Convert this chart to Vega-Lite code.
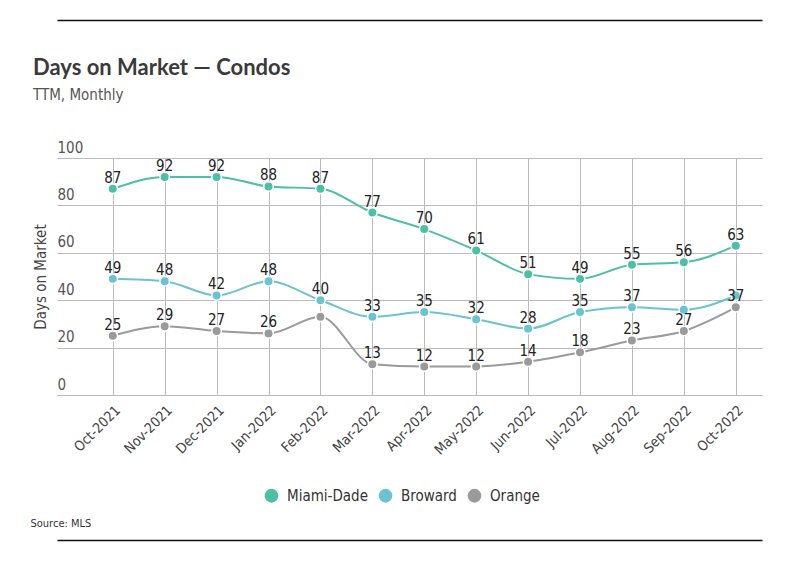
{
  "$schema": "https://vega.github.io/schema/vega-lite/v6.json",
  "width": 705,
  "height": 237,
  "autosize": {"type": "none"},
  "padding": {"left": 57, "top": 158, "right": 37, "bottom": 180},
  "background": "white",
  "config": {
    "font": "DejaVu Sans Condensed, DejaVu Sans, sans-serif",
    "view": {"stroke": null}
  },
  "title": {
    "text": "Days on Market — Condos",
    "subtitle": "TTM, Monthly",
    "anchor": "start",
    "frame": "group",
    "dx": -24,
    "dy": 88,
    "font": "Lato",
    "fontSize": 22,
    "fontWeight": "bold",
    "color": "#3a3a3a",
    "subtitleFont": "DejaVu Sans Condensed, DejaVu Sans, sans-serif",
    "subtitleFontSize": 15,
    "subtitleColor": "#555555",
    "subtitlePadding": 8
  },
  "data": {
    "values": [
      {"month": "Oct-2021", "county": "Miami-Dade", "value": 87, "lbl": "87"},
      {"month": "Nov-2021", "county": "Miami-Dade", "value": 92, "lbl": "92"},
      {"month": "Dec-2021", "county": "Miami-Dade", "value": 92, "lbl": "92"},
      {"month": "Jan-2022", "county": "Miami-Dade", "value": 88, "lbl": "88"},
      {"month": "Feb-2022", "county": "Miami-Dade", "value": 87, "lbl": "87"},
      {"month": "Mar-2022", "county": "Miami-Dade", "value": 77, "lbl": "77"},
      {"month": "Apr-2022", "county": "Miami-Dade", "value": 70, "lbl": "70"},
      {"month": "May-2022", "county": "Miami-Dade", "value": 61, "lbl": "61"},
      {"month": "Jun-2022", "county": "Miami-Dade", "value": 51, "lbl": "51"},
      {"month": "Jul-2022", "county": "Miami-Dade", "value": 49, "lbl": "49"},
      {"month": "Aug-2022", "county": "Miami-Dade", "value": 55, "lbl": "55"},
      {"month": "Sep-2022", "county": "Miami-Dade", "value": 56, "lbl": "56"},
      {"month": "Oct-2022", "county": "Miami-Dade", "value": 63, "lbl": "63"},
      {"month": "Oct-2021", "county": "Broward", "value": 49, "lbl": "49"},
      {"month": "Nov-2021", "county": "Broward", "value": 48, "lbl": "48"},
      {"month": "Dec-2021", "county": "Broward", "value": 42, "lbl": "42"},
      {"month": "Jan-2022", "county": "Broward", "value": 48, "lbl": "48"},
      {"month": "Feb-2022", "county": "Broward", "value": 40, "lbl": "40"},
      {"month": "Mar-2022", "county": "Broward", "value": 33, "lbl": "33"},
      {"month": "Apr-2022", "county": "Broward", "value": 35, "lbl": "35"},
      {"month": "May-2022", "county": "Broward", "value": 32, "lbl": "32"},
      {"month": "Jun-2022", "county": "Broward", "value": 28, "lbl": "28"},
      {"month": "Jul-2022", "county": "Broward", "value": 35, "lbl": "35"},
      {"month": "Aug-2022", "county": "Broward", "value": 37, "lbl": "37"},
      {"month": "Sep-2022", "county": "Broward", "value": 36, "lbl": ""},
      {"month": "Oct-2022", "county": "Broward", "value": 42, "lbl": ""},
      {"month": "Oct-2021", "county": "Orange", "value": 25, "lbl": "25"},
      {"month": "Nov-2021", "county": "Orange", "value": 29, "lbl": "29"},
      {"month": "Dec-2021", "county": "Orange", "value": 27, "lbl": "27"},
      {"month": "Jan-2022", "county": "Orange", "value": 26, "lbl": "26"},
      {"month": "Feb-2022", "county": "Orange", "value": 33, "lbl": ""},
      {"month": "Mar-2022", "county": "Orange", "value": 13, "lbl": "13"},
      {"month": "Apr-2022", "county": "Orange", "value": 12, "lbl": "12"},
      {"month": "May-2022", "county": "Orange", "value": 12, "lbl": "12"},
      {"month": "Jun-2022", "county": "Orange", "value": 14, "lbl": "14"},
      {"month": "Jul-2022", "county": "Orange", "value": 18, "lbl": "18"},
      {"month": "Aug-2022", "county": "Orange", "value": 23, "lbl": "23"},
      {"month": "Sep-2022", "county": "Orange", "value": 27, "lbl": "27"},
      {"month": "Oct-2022", "county": "Orange", "value": 37, "lbl": "37"}
    ]
  },
  "encoding": {
    "x": {
      "field": "month",
      "type": "ordinal",
      "sort": null,
      "scale": {"type": "point", "padding": 0.79, "align": 0.68}
    },
    "y": {
      "field": "value",
      "type": "quantitative",
      "scale": {"domain": [0, 100], "nice": false, "zero": true},
      "axis": {
        "values": [0, 20, 40, 60, 80, 100],
        "title": "Days on Market",
        "titleX": -17,
        "titleY": 118.5,
        "titleAngle": -90,
        "titleAlign": "center",
        "titleBaseline": "middle",
        "titleFontSize": 15,
        "titleFontWeight": "normal",
        "titleColor": "#444444",
        "domain": false,
        "ticks": false,
        "tickSize": 0,
        "labelPadding": 0,
        "labelAlign": "left",
        "labelBaseline": "alphabetic",
        "labelOffset": -6,
        "labelFlush": false,
        "labelFontSize": 15,
        "labelColor": "#555555",
        "grid": true,
        "gridColor": "#bbbbbb",
        "gridWidth": 1
      }
    },
    "color": {
      "field": "county",
      "type": "nominal",
      "scale": {
        "domain": ["Miami-Dade", "Broward", "Orange"],
        "range": ["#4dbfa6", "#6bc3cf", "#9a9a9a"]
      },
      "legend": {
        "orient": "none",
        "legendX": 207,
        "legendY": 330,
        "direction": "horizontal",
        "title": null,
        "symbolType": "circle",
        "symbolSize": 190,
        "symbolStrokeWidth": 0,
        "labelFontSize": 15,
        "labelColor": "#333333",
        "labelOffset": 8,
        "columnPadding": 10
      }
    }
  },
  "layer": [
    {
      "mark": {"type": "line", "interpolate": "monotone", "strokeWidth": 2},
      "encoding": {
        "x": {
          "field": "month",
          "type": "ordinal",
          "sort": null,
          "axis": {
            "title": null,
            "labelAngle": -45,
            "labelAlign": "right",
            "labelBaseline": "top",
            "labelPadding": 8,
            "labelFontSize": 14,
            "labelColor": "#444444",
            "ticks": false,
            "domain": true,
            "domainColor": "#bbbbbb",
            "grid": true,
            "gridColor": "#bbbbbb"
          }
        }
      }
    },
    {
      "mark": {"type": "point", "filled": true, "opacity": 1, "size": 90, "stroke": "white", "strokeWidth": 1.5},
      "encoding": {
        "x": {
          "field": "month",
          "type": "ordinal",
          "sort": null,
          "axis": {
            "orient": "top",
            "offset": 138,
            "title": null,
            "labels": false,
            "ticks": false,
            "grid": false,
            "domain": true,
            "domainColor": "#111111",
            "domainWidth": 1.5
          }
        }
      }
    },
    {
      "mark": {"type": "text", "dy": -11, "fontSize": 15, "color": "#222222"},
      "encoding": {
        "text": {"field": "lbl"},
        "color": {"value": "#222222"},
        "x": {
          "field": "month",
          "type": "ordinal",
          "sort": null,
          "axis": {
            "orient": "bottom",
            "offset": 145,
            "title": "Source: MLS",
            "titleX": -27,
            "titleY": -17,
            "titleAlign": "left",
            "titleBaseline": "middle",
            "titleFontSize": 11,
            "titleFontWeight": "normal",
            "titleColor": "#333333",
            "labels": false,
            "ticks": false,
            "grid": false,
            "domain": true,
            "domainColor": "#111111",
            "domainWidth": 1.5
          }
        }
      }
    }
  ],
  "resolve": {"axis": {"x": "independent"}}
}
